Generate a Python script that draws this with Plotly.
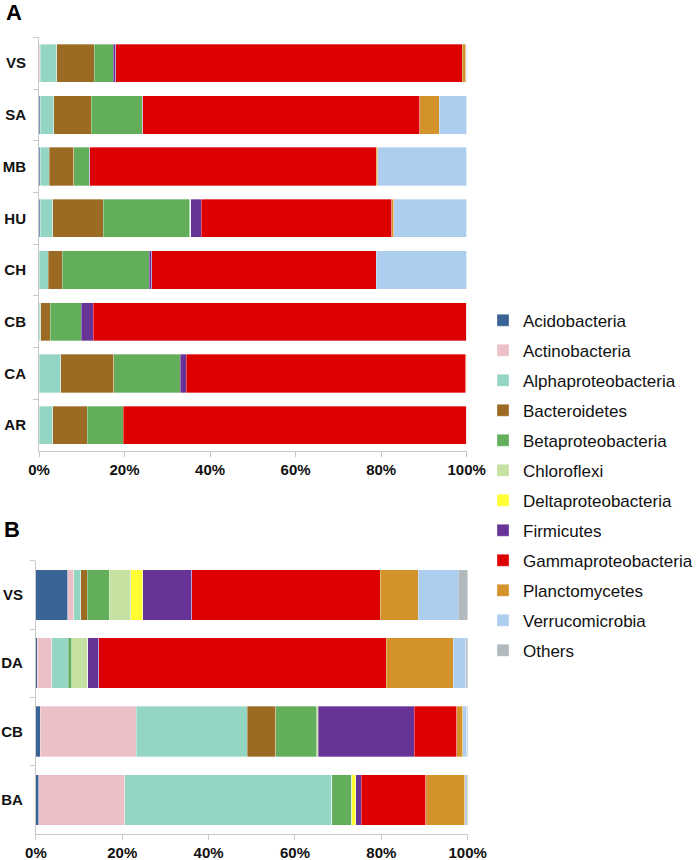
import plotly.graph_objects as go

taxa = ["Acidobacteria", "Actinobacteria", "Alphaproteobacteria", "Bacteroidetes",
        "Betaproteobacteria", "Chloroflexi", "Deltaproteobacteria", "Firmicutes",
        "Gammaproteobacteria", "Planctomycetes", "Verrucomicrobia", "Others"]
colors = ["#3A6496", "#EBC1C7", "#95D5C4", "#9C6B23", "#62AE5A", "#C5E2A2",
          "#FFFF33", "#673397", "#DC0000", "#D4922A", "#ADCEEE", "#B2BABE"]

# Panel A (top to bottom)
sites_a = ["VS", "SA", "MB", "HU", "CH", "CB", "CA", "AR"]
a_acido = [0, 0.3, 0.3, 0.3, 0, 0, 0, 0]
a_actino = [0.3, 0, 0, 0, 0, 0, 0, 0]
a_alpha = [3.8, 3.2, 2.1, 2.9, 2.2, 0.4, 5.1, 3.2]
a_bact = [8.8, 8.7, 5.7, 11.8, 3.2, 2.2, 12.4, 8.1]
a_beta = [4.5, 11.9, 3.7, 20.3, 20.4, 7.3, 15.5, 8.4]
a_chloro = [0, 0, 0, 0.2, 0, 0, 0, 0]
a_delta = [0, 0, 0, 0, 0, 0, 0, 0]
a_firm = [0.5, 0.2, 0.1, 2.4, 0.6, 2.8, 1.4, 0]
a_gamma = [81.1, 64.7, 67.0, 44.6, 52.5, 87.3, 65.4, 80.3]
a_planct = [0.8, 4.6, 0.3, 0.5, 0, 0, 0.2, 0]
a_verru = [0.2, 6.4, 20.8, 17.0, 21.1, 0, 0, 0]
a_others = [0, 0, 0, 0, 0, 0, 0, 0]

# Panel B (top to bottom)
sites_b = ["VS", "DA", "CB", "BA"]
b_acido = [7.4, 0.3, 1.0, 0.7]
b_actino = [1.4, 3.4, 22.2, 19.9]
b_alpha = [1.6, 3.8, 25.8, 47.9]
b_bact = [1.5, 0, 6.6, 0]
b_beta = [5.1, 0.8, 9.4, 4.6]
b_chloro = [5.0, 3.7, 0.4, 0]
b_delta = [2.7, 0, 0, 1.0]
b_firm = [11.4, 2.6, 22.2, 1.2]
b_gamma = [43.6, 66.5, 9.9, 15.0]
b_planct = [8.9, 15.5, 1.4, 9.0]
b_verru = [9.2, 2.9, 0.9, 0.35]
b_others = [2.2, 0.5, 0.2, 0.35]

xticks = [0, 20, 40, 60, 80, 100]

series_a = [a_acido, a_actino, a_alpha, a_bact, a_beta, a_chloro, a_delta,
            a_firm, a_gamma, a_planct, a_verru, a_others]
series_b = [b_acido, b_actino, b_alpha, b_bact, b_beta, b_chloro, b_delta,
            b_firm, b_gamma, b_planct, b_verru, b_others]

W, H = 700, 860


def px_x(p):
    return p / W


def px_y(p):
    return 1 - p / H


fig = go.Figure()
for name, col, va, vb in zip(taxa, colors, series_a, series_b):
    fig.add_trace(go.Bar(y=sites_a, x=va, orientation="h", name=name,
                         marker=dict(color=col, line=dict(width=0.6, color="rgba(255,255,255,0.55)")),
                         legendgroup=name, showlegend=True, xaxis="x", yaxis="y"))
    fig.add_trace(go.Bar(y=sites_b, x=vb, orientation="h", name=name,
                         marker=dict(color=col, line=dict(width=0.6, color="rgba(255,255,255,0.55)")),
                         legendgroup=name, showlegend=False, xaxis="x2", yaxis="y2"))

axis_col = "#C8C8C8"
tickfont = dict(family="Liberation Sans, Arial, sans-serif", size=15, color="#111111", weight="bold")

xcommon = dict(range=[0, 100], tickvals=xticks, ticktext=[f"{v}%" for v in xticks],
               showgrid=False, zeroline=False, showline=True, linecolor=axis_col, linewidth=1,
               ticks="outside", ticklen=5, tickcolor=axis_col, tickfont=tickfont,
               ticklabelstandoff=0, fixedrange=True, automargin=False)
ycommon = dict(type="category", autorange="reversed", showgrid=False, zeroline=False,
               showline=True, linecolor=axis_col, linewidth=1, ticks="outside", ticklen=5,
               tickcolor=axis_col, tickson="boundaries", tickfont=tickfont, ticklabelstandoff=9,
               fixedrange=True, automargin=False)

fig.update_layout(
    width=W, height=H,
    margin=dict(l=0, r=0, t=0, b=0, autoexpand=False),
    paper_bgcolor="white", plot_bgcolor="white",
    barmode="stack", bargap=0.26,
    font=dict(family="Liberation Sans, Arial, sans-serif", color="#111111"),
    xaxis=dict(domain=[px_x(39), px_x(466.7)], anchor="y", **xcommon),
    yaxis=dict(domain=[px_y(451), px_y(37.3)], anchor="x",
               categoryorder="array", categoryarray=sites_a, **ycommon),
    xaxis2=dict(domain=[px_x(35.9), px_x(467.7)], anchor="y2", **xcommon),
    yaxis2=dict(domain=[px_y(834), px_y(560.7)], anchor="x2",
                categoryorder="array", categoryarray=sites_b, **ycommon),
    legend=dict(x=px_x(483), y=px_y(302.7), xanchor="left", yanchor="top",
                traceorder="grouped", tracegroupgap=4.9,
                font=dict(family="Liberation Sans, Arial, sans-serif", size=17, color="#111111"),
                itemwidth=30, bgcolor="rgba(0,0,0,0)"),
    annotations=[
        dict(text="<b>A</b>", x=px_x(14.5), y=px_y(13), xref="paper", yref="paper",
             showarrow=False, font=dict(size=22, color="#000000"), xanchor="center", yanchor="middle"),
        dict(text="<b>B</b>", x=px_x(12), y=px_y(529), xref="paper", yref="paper",
             showarrow=False, font=dict(size=22, color="#000000"), xanchor="center", yanchor="middle"),
    ],
)

fig.write_html("out.html",
               config={"displayModeBar": False},
               post_script="document.body.style.margin='0';document.body.style.padding='0';"
                           "document.documentElement.style.overflow='hidden';")
